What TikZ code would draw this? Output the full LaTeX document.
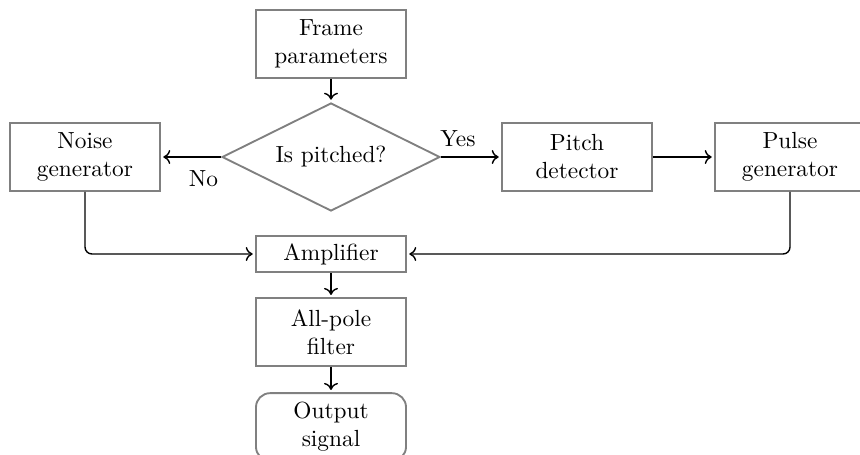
\documentclass[tikz,border=0pt]{standalone}
\usetikzlibrary{shapes.geometric,arrows.meta}
\begin{document}
\begin{tikzpicture}[x=0.4286pt,y=-0.4286pt,
  box/.style={draw=gray, thick, align=center, minimum width=64.3pt,
    minimum height=29pt, inner sep=3pt},
  slim/.style={box, minimum height=15.5pt},
  decision/.style={diamond, draw=gray, thick, aspect=2, inner sep=1pt,
    minimum width=93.4pt, minimum height=46.3pt},
  term/.style={box, rounded corners=6pt},
  arr/.style={-{To[length=3pt,width=6pt]}, semithick, shorten >=1pt}]
  \path[use as bounding box, clip] (0,0) rectangle (860,454);

  % nodes
  \node[box]      (frame) at (331,44)  {Frame\\parameters};
  \node[decision] (dec)   at (331,157) {Is pitched?};
  \node[box]      (noise) at (85,157)  {Noise\\generator};
  \node[box]      (pitch) at (577,157) {Pitch\\detector};
  \node[box]      (pulse) at (790,157) {Pulse\\generator};
  \node[slim]     (amp)   at (331,254) {Amplifier};
  \node[box]      (filt)  at (331,332) {All-pole\\filter};
  \node[term]     (out)   at (331,427) {Output\\signal};

  % connectors
  \draw[arr] (frame) -- (dec);
  \draw[arr] (dec.west) -- node[pos=0, anchor=north east, inner sep=1pt,
    yshift=-4.5pt] {No} (noise.east);
  \draw[arr] (dec.east) -- node[pos=0, anchor=south west, inner sep=1pt,
    xshift=-1.5pt, yshift=3pt] {Yes} (pitch.west);
  \draw[arr] (pitch) -- (pulse);
  \draw[arr, rounded corners=3pt] (noise.south) |- (amp.west);
  \draw[arr, rounded corners=3pt] (pulse.south) |- (amp.east);
  \draw[arr] (amp) -- (filt);
  \draw[arr] (filt) -- (out);
\end{tikzpicture}
\end{document}
